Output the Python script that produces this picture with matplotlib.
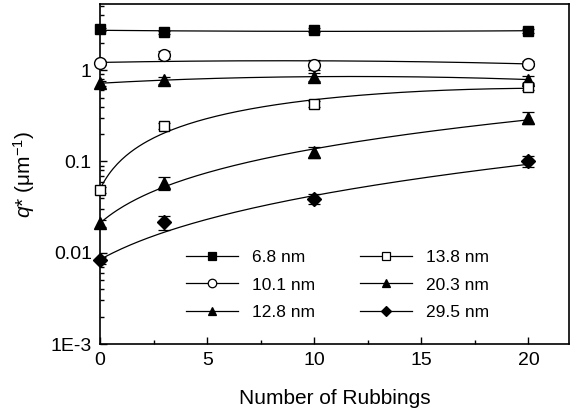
import numpy as np
import matplotlib
matplotlib.use('Agg')
import matplotlib.pyplot as plt
from matplotlib.lines import Line2D
from matplotlib.ticker import FixedLocator, FixedFormatter, MultipleLocator

plt.rcParams['font.family'] = ['Liberation Sans', 'DejaVu Sans']
plt.rcParams['mathtext.fontset'] = 'custom'
plt.rcParams['mathtext.rm'] = 'Liberation Sans'
plt.rcParams['mathtext.it'] = 'Liberation Sans:italic'

# number of rubbings
rubbings = [0, 3, 10, 20]

# series labels (film thickness)
labels = ['6.8 nm', '10.1 nm', '12.8 nm', '13.8 nm', '20.3 nm', '29.5 nm']

# q* values (um^-1) and error bars
q_68 = [2.8, 2.6, 2.75, 2.7]
e_68 = [0.12, 0.12, 0.15, 0.12]
q_101 = [1.2, 1.48, 1.15, 1.18]
e_101 = [0.05, 0.14, 0.14, 0.08]
q_128 = [0.72, 0.78, 0.85, 0.79]
e_128 = [0.04, 0.07, 0.08, 0.07]
q_138 = [0.049, 0.245, 0.43, 0.66]
e_138 = [0.004, 0.02, 0.03, 0.05]
q_203 = [0.021, 0.058, 0.127, 0.30]
e_203 = [0.002, 0.009, 0.018, 0.045]
q_295 = [0.0083, 0.0215, 0.039, 0.10]
e_295 = [0.0008, 0.0038, 0.0045, 0.014]

series = [
    (q_68, e_68, 's', 'black'),
    (q_101, e_101, 'o', 'white'),
    (q_128, e_128, '^', 'black'),
    (q_138, e_138, 's', 'white'),
    (q_203, e_203, '^', 'black'),
    (q_295, e_295, 'D', 'black'),
]
msizes = {'s': 7.8, 'o': 8.5, '^': 8.5, 'D': 7}

fig = plt.figure(figsize=(5.72, 4.13), dpi=100)
ax = fig.add_axes([0.175, 0.167, 0.82, 0.823])

x = np.array(rubbings, dtype=float)
xs = np.linspace(0, 20, 200)
handles = []
for (q, e, m, fc), lab in zip(series, labels):
    q = np.array(q)
    # quadratic fit curve, weighted by the error bars
    coef = np.polyfit(x, q, 2, w=1.0 / np.array(e))
    ax.plot(xs, np.polyval(coef, xs), color='black', lw=0.9, zorder=2)
    ax.errorbar(x, q, yerr=e, fmt='none', ecolor='black', elinewidth=0.9,
                capsize=4.5, capthick=0.9, zorder=3)
    ax.plot(x, q, ls='none', marker=m, ms=msizes[m], mfc=fc, mec='black',
            mew=1.0, zorder=4, clip_on=False)
    handles.append(Line2D([], [], color='black', lw=0.9, marker=m,
                          ms=msizes[m] * 0.72, mfc=fc, mec='black', mew=0.9,
                          label=lab))

ax.set_yscale('log')
ax.set_ylim(1e-3, 5.3)
ax.set_xlim(0, 21.9)

ax.yaxis.set_major_locator(FixedLocator([1e-3, 1e-2, 1e-1, 1]))
ax.yaxis.set_major_formatter(FixedFormatter(['1E-3', '0.01', '0.1', '1']))
minors = [k * 10.0 ** d for d in range(-3, 1) for k in range(2, 10)]
ax.yaxis.set_minor_locator(FixedLocator(minors))
ax.yaxis.set_minor_formatter(FixedFormatter([''] * len(minors)))
ax.xaxis.set_major_locator(FixedLocator([0, 5, 10, 15, 20]))
ax.xaxis.set_minor_locator(MultipleLocator(2.5))

ax.tick_params(which='both', direction='in', labelsize=14, width=1.0)
ax.tick_params(which='major', length=5, pad=6)
ax.tick_params(which='minor', length=3)
ax.tick_params(axis='y', which='both', right=False)
ax.tick_params(axis='x', which='both', top=False)
for s in ax.spines.values():
    s.set_linewidth(1.2)

ax.set_xlabel('Number of Rubbings', fontsize=15, labelpad=14)
ax.set_ylabel(r'$q$* (μm$^{\mathregular{-1}}$)', fontsize=15, labelpad=10)

ax.legend(handles=handles, ncol=2, frameon=False,
          loc='upper left', bbox_to_anchor=(0.165, 0.303), borderpad=0,
          fontsize=12.5, handlelength=3.0, handletextpad=0.8,
          columnspacing=2.6, labelspacing=0.72)

fig.savefig('out.png', dpi=100)
